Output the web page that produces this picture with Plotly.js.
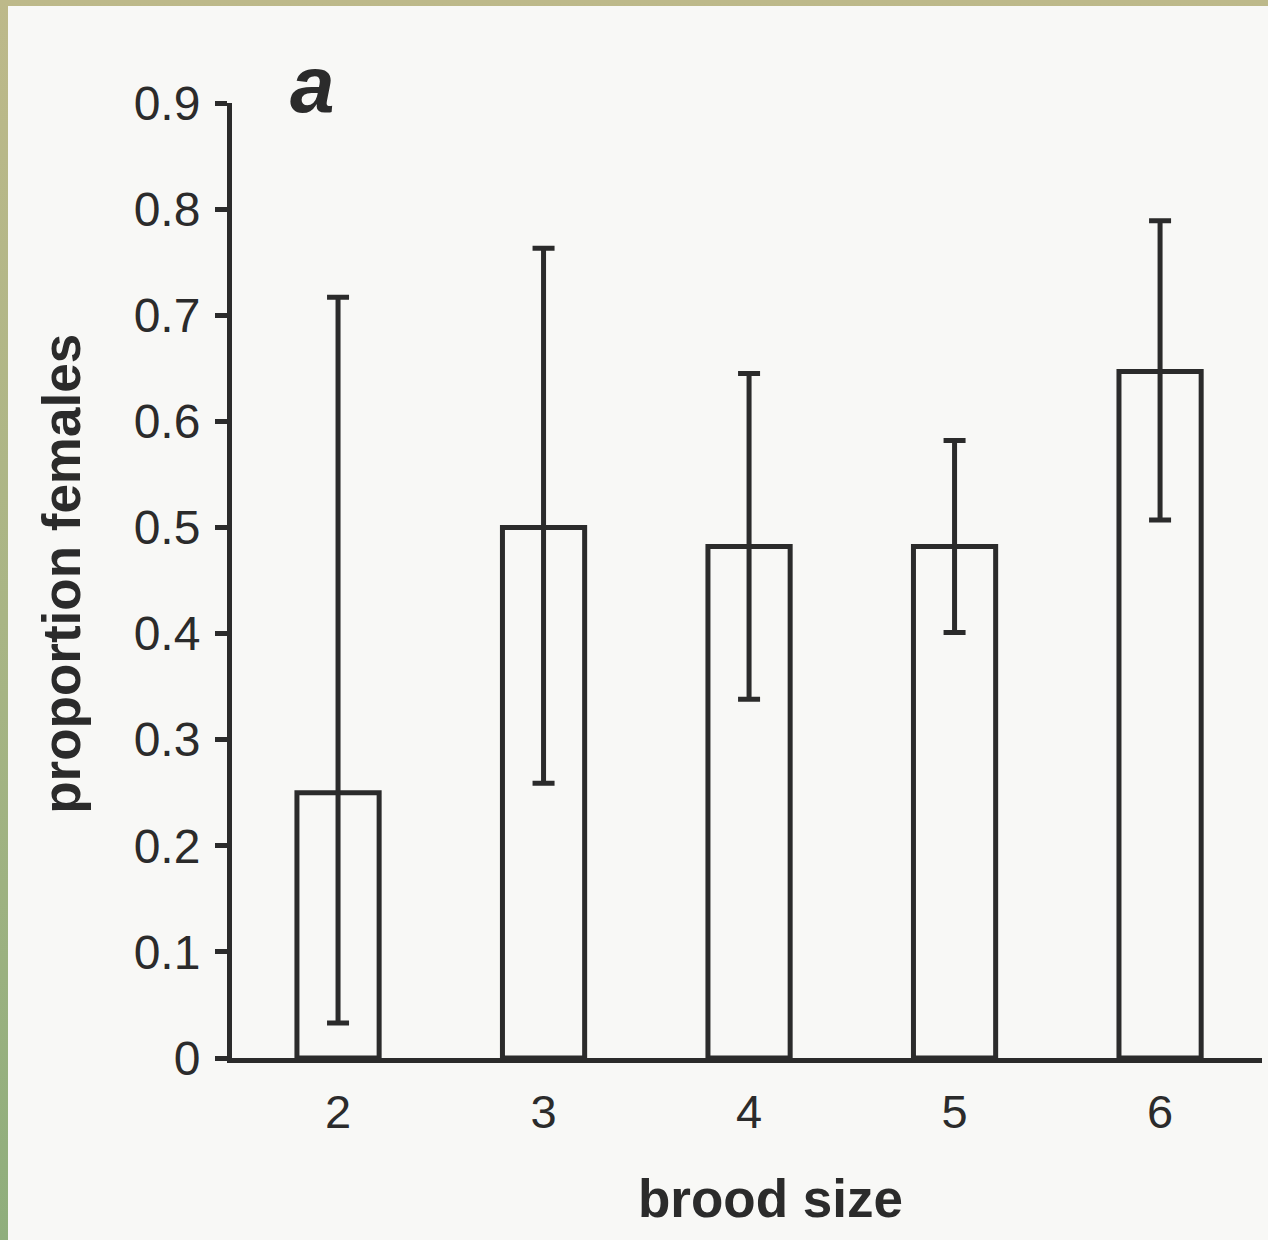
<!DOCTYPE html>
<html>
<head>
<meta charset="utf-8">
<script src="https://cdn.plot.ly/plotly-3.0.1.min.js"></script>
<style>
  html, body { margin: 0; padding: 0; }
  body {
    width: 1268px; height: 1240px; overflow: hidden;
    background: linear-gradient(to bottom, #bdb98a 0%, #a9b585 50%, #8fae7c 100%);
  }
  #wrap {
    position: absolute; left: 8px; top: 6px; width: 1260px; height: 1234px;
    background: #f8f8f6;
  }
  #chart { position: absolute; left: -8px; top: -6px; width: 1268px; height: 1240px; }
</style>
</head>
<body>
<div id="wrap"><div id="chart"></div></div>
<script>
// Data
const broodSize = [2, 3, 4, 5, 6];
const proportionFemales = [0.25, 0.50, 0.482, 0.482, 0.647];
const upperLimit = [0.717, 0.763, 0.645, 0.582, 0.789];
const lowerLimit = [0.033, 0.259, 0.338, 0.401, 0.507];
const yTicks = [0, 0.1, 0.2, 0.3, 0.4, 0.5, 0.6, 0.7, 0.8, 0.9];
const yTickText = ['0', '0.1', '0.2', '0.3', '0.4', '0.5', '0.6', '0.7', '0.8', '0.9'];
const xTitle = 'brood size';
const yTitle = 'proportion females';
const panelLabel = 'a';

const errPlus = proportionFemales.map((v, i) => upperLimit[i] - v);
const errMinus = proportionFemales.map((v, i) => v - lowerLimit[i]);

const ink = '#2b2b2b';
const fontFam = '"Liberation Sans", Arial, Helvetica, sans-serif';

const trace = {
  type: 'bar',
  x: broodSize,
  y: proportionFemales,
  width: 0.40,
  marker: { color: 'rgba(0,0,0,0)', line: { color: ink, width: 5 } },
  error_y: {
    type: 'data', symmetric: false,
    array: errPlus, arrayminus: errMinus,
    color: ink, thickness: 5, width: 11
  },
  hoverinfo: 'x+y'
};

const layout = {
  width: 1268, height: 1240,
  paper_bgcolor: 'rgba(0,0,0,0)',
  plot_bgcolor: 'rgba(0,0,0,0)',
  margin: { l: 232, r: 6, t: 103, b: 182 },
  showlegend: false,
  font: { family: fontFam, color: ink },
  xaxis: {
    range: [1.484, 6.496],
    tickmode: 'array', tickvals: broodSize, ticktext: broodSize.map(String),
    ticks: '', showgrid: false, zeroline: false,
    showline: true, linecolor: ink, linewidth: 5,
    tickfont: { size: 47, color: ink, family: fontFam },
    ticklabelstandoff: 9
  },
  yaxis: {
    range: [0, 0.9],
    tickmode: 'array', tickvals: yTicks, ticktext: yTickText,
    ticks: 'outside', ticklen: 12, tickwidth: 5, tickcolor: ink,
    showgrid: false, zeroline: false,
    showline: true, linecolor: ink, linewidth: 5,
    tickfont: { size: 48, color: ink, family: fontFam },
    ticklabelstandoff: 5
  },
  annotations: [
    {
      text: '<b><i>' + panelLabel + '</i></b>', xref: 'paper', yref: 'paper',
      x: 0.078, y: 1.019, xanchor: 'center', yanchor: 'middle',
      showarrow: false, font: { size: 80, color: ink, family: fontFam }
    },
    {
      text: '<b>' + xTitle + '</b>', xref: 'paper', yref: 'paper',
      x: 0.523, y: -0.147, xanchor: 'center', yanchor: 'middle',
      showarrow: false, font: { size: 53, color: ink, family: fontFam }
    },
    {
      text: '<b>' + yTitle + '</b>', xref: 'paper', yref: 'paper',
      x: -0.1650, y: 0.507, xanchor: 'center', yanchor: 'middle', textangle: -90,
      showarrow: false, font: { size: 53, color: ink, family: fontFam }
    }
  ]
};

Plotly.newPlot('chart', [trace], layout, { displayModeBar: false, staticPlot: true });
</script>
</body>
</html>
